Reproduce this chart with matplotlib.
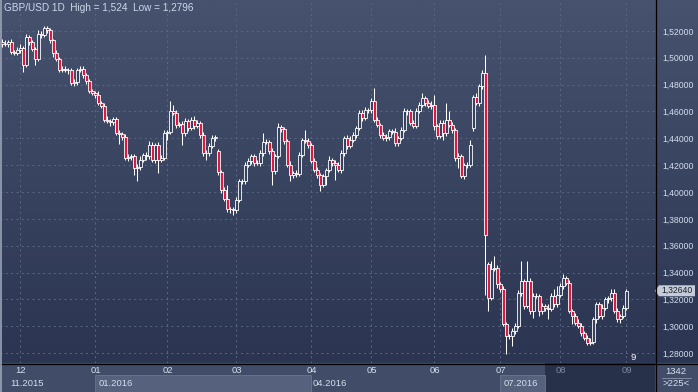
import matplotlib
matplotlib.use("Agg")
import matplotlib.pyplot as plt
import numpy as np
from matplotlib.colors import LinearSegmentedColormap
from matplotlib.lines import Line2D
from matplotlib.patches import Polygon, Rectangle
from matplotlib.transforms import blended_transform_factory

plt.rcParams["font.family"] = ["Liberation Sans", "DejaVu Sans"]

# daily closes, GBP/USD, late Nov 2015 .. early Sep 2016
CLOSE = [
    1.5101, 1.5105, 1.5120, 1.5046, 1.5038, 1.5060, 1.5075, 1.4947, 1.5158, 1.5114,
    1.5064, 1.4993, 1.5180, 1.5172, 1.5222, 1.5205, 1.5133, 1.5034, 1.4993, 1.4910,
    1.4915, 1.4910, 1.4905, 1.4811, 1.4816, 1.4910, 1.4915, 1.4873, 1.4824, 1.4749,
    1.4740, 1.4724, 1.4662, 1.4642, 1.4539, 1.4530, 1.4520, 1.4540, 1.4440, 1.4435,
    1.4410, 1.4254, 1.4260, 1.4265, 1.4179, 1.4185, 1.4241, 1.4278, 1.4266, 1.4353,
    1.4241, 1.4353, 1.4241, 1.4250, 1.4439, 1.4450, 1.4601, 1.4590, 1.4501, 1.4505,
    1.4439, 1.4526, 1.4477, 1.4539, 1.4490, 1.4514, 1.4427, 1.4291, 1.4290, 1.4340,
    1.4402, 1.4410, 1.4149, 1.4015, 1.3945, 1.3870, 1.3870, 1.3862, 1.3940, 1.4080,
    1.4085, 1.4200, 1.4228, 1.4266, 1.4216, 1.4215, 1.4290, 1.4375, 1.4370, 1.4308,
    1.4154, 1.4266, 1.4482, 1.4470, 1.4377, 1.4204, 1.4124, 1.4140, 1.4134, 1.4278,
    1.4390, 1.4382, 1.4353, 1.4234, 1.4164, 1.4124, 1.4055, 1.4117, 1.4161, 1.4241,
    1.4216, 1.4200, 1.4161, 1.4290, 1.4402, 1.4340, 1.4390, 1.4427, 1.4476, 1.4588,
    1.4551, 1.4613, 1.4610, 1.4675, 1.4538, 1.4501, 1.4427, 1.4402, 1.4410, 1.4452,
    1.4450, 1.4365, 1.4402, 1.4464, 1.4600, 1.4600, 1.4514, 1.4495, 1.4600, 1.4650,
    1.4700, 1.4663, 1.4640, 1.4650, 1.4489, 1.4414, 1.4514, 1.4440, 1.4538, 1.4501,
    1.4464, 1.4253, 1.4265, 1.4117, 1.4204, 1.4200, 1.4352, 1.4711, 1.4662, 1.4786,
    1.4885, 1.3682, 1.3212, 1.3423, 1.3436, 1.3312, 1.3274, 1.3014, 1.2927, 1.2930,
    1.2964, 1.3002, 1.3250, 1.3336, 1.3150, 1.3336, 1.3113, 1.3225, 1.3225, 1.3113,
    1.3150, 1.3138, 1.3130, 1.3225, 1.3163, 1.3230, 1.3300, 1.3361, 1.3324, 1.3113,
    1.3076, 1.3026, 1.3002, 1.2952, 1.2915, 1.2878, 1.2885, 1.3051, 1.3163, 1.3076,
    1.3138, 1.3200, 1.3210, 1.3250, 1.3113, 1.3051, 1.3076, 1.3138, 1.3264,
]
FIRST_OPEN = 1.5120
# bars whose open gaps away from the previous close
GAP_OPENS = {72: 1.4303, 157: 1.4476, 162: 1.3466}

# wick lengths beyond the body, in pips (1e-4)
WICK_UP = [
    20, 25, 15, 20, 10, 20, 25, 15, 20, 15,
    20, 15, 25, 20, 18, 15, 20, 10, 20, 15,
    25, 20, 15, 20, 25, 15, 20, 20, 15, 20,
    20, 15, 25, 15, 20, 25, 15, 20, 15, 20,
    15, 20, 25, 15, 20, 20, 25, 15, 20, 25,
    20, 15, 20, 25, 20, 15, 74, 49, 20, 15,
    20, 25, 15, 20, 25, 20, 15, 20, 20, 25,
    20, 15, 20, 15, 20, 105, 15, 20, 25, 20,
    15, 20, 25, 20, 15, 20, 25, 64, 20, 15,
    20, 15, 32, 20, 15, 20, 25, 15, 20, 20,
    15, 74, 20, 15, 20, 25, 15, 20, 20, 25,
    15, 20, 25, 20, 15, 20, 25, 20, 15, 20,
    25, 20, 15, 25, 99, 20, 15, 20, 25, 15,
    20, 25, 15, 20, 25, 15, 20, 20, 25, 20,
    37, 15, 20, 25, 74, 15, 20, 25, 124, 62,
    20, 15, 25, 20, 15, 20, 38, 15, 25, 20,
    20, 136, 15, 60, 86, 20, 15, 25, 20, 15,
    20, 25, 20, 149, 15, 149, 20, 25, 20, 15,
    20, 15, 25, 20, 49, 70, 20, 25, 15, 20,
    15, 20, 25, 20, 15, 20, 25, 20, 15, 20,
    25, 20, 15, 24, 24, 20, 15, 20, 15,
]
WICK_DN = [
    20, 15, 25, 20, 15, 20, 25, 50, 15, 20,
    15, 50, 20, 25, 15, 20, 20, 25, 15, 20,
    15, 20, 25, 15, 20, 20, 15, 25, 20, 15,
    20, 25, 15, 20, 20, 15, 25, 20, 15, 80,
    20, 15, 20, 25, 49, 99, 20, 15, 25, 20,
    15, 25, 99, 20, 15, 49, 20, 15, 25, 20,
    86, 20, 25, 15, 20, 15, 25, 20, 49, 20,
    15, 20, 25, 20, 15, 20, 25, 30, 20, 15,
    20, 25, 15, 20, 25, 15, 20, 20, 15, 25,
    99, 20, 15, 25, 20, 15, 44, 20, 25, 15,
    20, 15, 25, 20, 15, 20, 50, 20, 62, 15,
    20, 108, 15, 20, 25, 20, 15, 20, 25, 15,
    20, 15, 25, 20, 15, 20, 25, 15, 20, 20,
    15, 25, 20, 15, 20, 25, 15, 20, 20, 15,
    20, 25, 15, 20, 25, 20, 15, 50, 20, 15,
    25, 20, 74, 15, 20, 25, 15, 20, 15, 25,
    20, 453, 99, 20, 15, 25, 20, 15, 131, 20,
    77, 20, 15, 25, 20, 15, 20, 50, 15, 37,
    20, 25, 79, 15, 20, 20, 15, 25, 20, 15,
    62, 20, 15, 25, 20, 15, 15, 20, 25, 15,
    20, 15, 25, 20, 15, 20, 25, 15, 20,
]

PRICE_TICKS = [1.28, 1.30, 1.32, 1.34, 1.36, 1.38, 1.40, 1.42, 1.44, 1.46, 1.48, 1.50, 1.52]
MONTH_BARS = [6, 31, 55, 78, 103, 123, 144, 166, 186, 208]
MONTH_LABELS = ["12", "01", "02", "03", "04", "05", "06", "07", "08", "09"]
YEAR_LABELS = ["11.2015", "01.2016", "04.2016", "07.2016"]
LAST_PRICE = 1.3264
TITLE = "GBP/USD 1D  High = 1,524  Low = 1,2796"

BG_TOP = "#46526e"
BG_BOTTOM = "#2b3551"
BULL_FILL = "#37425e"
BEAR_FILL = "#e3173d"
GRID_COLOR = "#5b6785"
TEXT_COLOR = "#d4deee"
STRIP_COLOR = "#414d68"
BOX_COLOR = "#56627d"
DIM_COLOR = "#27314a"

W, H = 698, 392
PLOT_R, PLOT_B = 655, 363
DIM_FROM_BAR = 181

close = np.array(CLOSE)
open_ = np.empty_like(close)
open_[0] = FIRST_OPEN
open_[1:] = close[:-1]
for k, v in GAP_OPENS.items():
    open_[k] = v
high = np.maximum(open_, close) + np.array(WICK_UP) * 1e-4
low = np.minimum(open_, close) - np.array(WICK_DN) * 1e-4
idx = np.arange(len(close))
rising = close >= open_

fig = plt.figure(figsize=(W / 100, H / 100), dpi=100)

# background: gradient over chart + right scale, flat strip below
bg = fig.add_axes([0, 0, 1, 1])
bg.set_xlim(0, W)
bg.set_ylim(H, 0)
bg.axis("off")
grad_cmap = LinearSegmentedColormap.from_list("bg", [BG_TOP, BG_BOTTOM])
bg.imshow(np.linspace(0, 1, 256)[:, None], extent=[0, W, PLOT_B, 0],
          aspect="auto", cmap=grad_cmap, zorder=0)
bg.add_patch(Rectangle((0, PLOT_B), W, H - PLOT_B, color=STRIP_COLOR, zorder=1))

ax = fig.add_axes([0, (H - PLOT_B) / H, PLOT_R / W, PLOT_B / H])
ax.set_facecolor("none")
ax.set_xlim(-0.83, 217.5)
ax.set_ylim(1.2726, 1.5430)
for spine in ax.spines.values():
    spine.set_visible(False)

ax.vlines(idx, low, high, color="white", linewidth=0.75, zorder=3)
ax.bar(idx[rising], (close - open_)[rising], bottom=open_[rising], width=0.72,
       color=BULL_FILL, edgecolor="white", linewidth=0.6, zorder=4)
ax.bar(idx[~rising], (close - open_)[~rising], bottom=open_[~rising], width=0.72,
       color=BEAR_FILL, edgecolor="white", linewidth=0.6, zorder=4)

ax.yaxis.tick_right()
ax.set_yticks(PRICE_TICKS)
ax.set_yticklabels([f"{v:.5f}".replace(".", ",") for v in PRICE_TICKS])
ax.tick_params(axis="y", length=0, pad=5.5, labelsize=6.2, labelcolor=TEXT_COLOR)
ax.set_xticks(MONTH_BARS)
ax.set_xticklabels(MONTH_LABELS)
ax.tick_params(axis="x", length=0, pad=2.5, labelsize=6.8, labelcolor=TEXT_COLOR)
for lbl in ax.get_xticklabels()[-2:]:
    lbl.set_color("#7d889e")
ax.grid(True, color=GRID_COLOR, linestyle=(0, (2, 3.5)), linewidth=0.7, zorder=1)
ax.set_axisbelow(True)

# date strip boxes below the chart
strip = blended_transform_factory(ax.transData, fig.transFigure)
row_h = 17 / H
ax.add_patch(Rectangle((DIM_FROM_BAR, 0), 217.5 - DIM_FROM_BAR, (H - PLOT_B) / H,
                       transform=strip, facecolor=DIM_COLOR, edgecolor="none",
                       clip_on=False, zorder=0.5))
ax.add_patch(Rectangle((MONTH_BARS[1] - 0.2, 0), MONTH_BARS[4] - MONTH_BARS[1], row_h,
                       transform=strip, facecolor=BOX_COLOR, edgecolor="#6a7690",
                       linewidth=0.6, clip_on=False, zorder=1))
ax.add_patch(Rectangle((MONTH_BARS[7] - 0.2, 0), DIM_FROM_BAR - MONTH_BARS[7], row_h,
                       transform=strip, facecolor=BOX_COLOR, edgecolor="#6a7690",
                       linewidth=0.6, clip_on=False, zorder=1))
year_x = [MONTH_BARS[0] - 3.5, MONTH_BARS[1] + 1, MONTH_BARS[4] + 0.5, MONTH_BARS[7] + 1]
for xb, txt in zip(year_x, YEAR_LABELS):
    ax.text(xb, 9 / H, txt, transform=strip, fontsize=6.8, color=TEXT_COLOR,
            ha="left", va="center", clip_on=False, zorder=2)

# last price tag on the scale
tag = blended_transform_factory(ax.transAxes, ax.transData)
dy = 5.5 * (1.5430 - 1.2726) / PLOT_B
px = 1 / PLOT_R
ax.add_patch(Polygon([(1.0, LAST_PRICE), (1 + 4 * px, LAST_PRICE + dy),
                      (1 + 40 * px, LAST_PRICE + dy), (1 + 40 * px, LAST_PRICE - dy),
                      (1 + 4 * px, LAST_PRICE - dy)], closed=True, transform=tag,
                     facecolor="#c5ccd8", edgecolor="none", clip_on=False, zorder=6))
ax.text(1 + 6 * px, LAST_PRICE, f"{LAST_PRICE:.5f}".replace(".", ","), transform=tag,
        fontsize=6.2, color="#1a2030", ha="left", va="center", clip_on=False, zorder=7)

fig.text(4 / W, 1 - 8 / H, TITLE, fontsize=7.2, color="#cfd8ea", ha="left", va="center")
fig.text(633 / W, 1 - 358 / H, "9", fontsize=6.8, color="white", ha="center", va="center")
fig.text(676 / W, 1 - 371 / H, "1342", fontsize=6.8, color=TEXT_COLOR, ha="center", va="center")
fig.text(676 / W, 1 - 384 / H, ">225<", fontsize=6.8, color=TEXT_COLOR, ha="center", va="center")
fig.add_artist(Line2D([662 / W, 691 / W], [1 - 378 / H] * 2, color="#8a95aa", linewidth=0.6))

# frame lines
fig.add_artist(Line2D([(PLOT_R + 0.5) / W] * 2, [0, 1], color="black", linewidth=0.9, zorder=10))
fig.add_artist(Line2D([0, 1], [(H - PLOT_B - 0.5) / H] * 2, color="black", linewidth=0.9, zorder=10))
fig.add_artist(Line2D([0.7 / W] * 2, [0, 1], color="#9aa3b5", linewidth=1.2, zorder=10))

fig.savefig("out.png", dpi=100)
